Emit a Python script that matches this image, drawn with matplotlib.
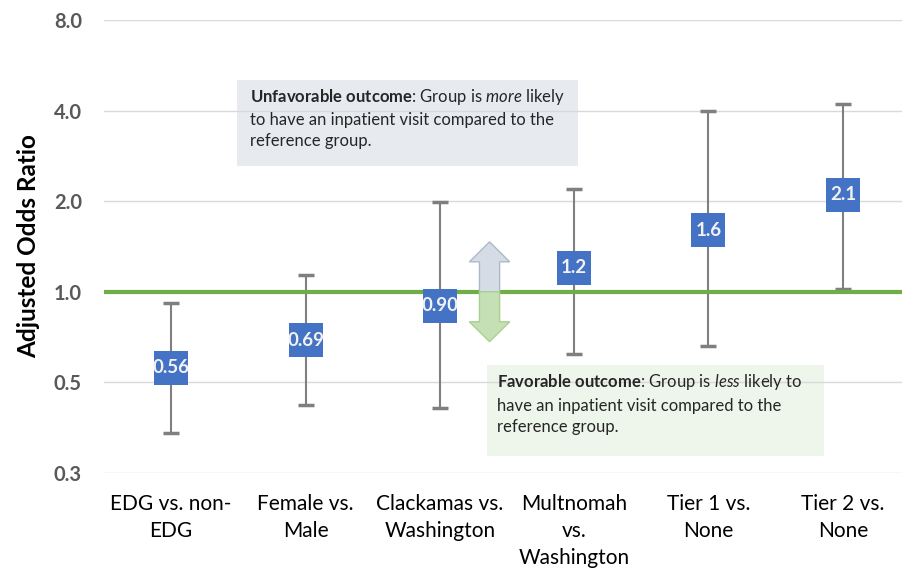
import matplotlib
matplotlib.use("Agg")
import matplotlib.pyplot as plt
from matplotlib.patches import Polygon
import numpy as np

plt.rcParams['font.family'] = ['Lato', 'DejaVu Sans']
plt.rcParams['mathtext.fontset'] = 'custom'
plt.rcParams['mathtext.rm'] = 'Lato'
plt.rcParams['mathtext.bf'] = 'Lato:bold'
plt.rcParams['mathtext.it'] = 'Lato:italic'

categories = ["EDG vs. non-\nEDG", "Female vs.\nMale", "Clackamas vs.\nWashington",
              "Multnomah\nvs.\nWashington", "Tier 1 vs.\nNone", "Tier 2 vs.\nNone"]
aor = [0.56, 0.69, 0.90, 1.2, 1.6, 2.1]
aor_labels = ["0.56", "0.69", "0.90", "1.2", "1.6", "2.1"]
ci_lower = [0.34, 0.42, 0.41, 0.62, 0.66, 1.02]
ci_upper = [0.92, 1.14, 1.99, 2.2, 4.0, 4.2]
yticks = [0.25, 0.5, 1.0, 2.0, 4.0, 8.0]
ytick_labels = ["0.3", "0.5", "1.0", "2.0", "4.0", "8.0"]

fig = plt.figure(figsize=(9.02, 5.70), dpi=100)
ax = fig.add_axes([104/902, 1-473/570, 806/902, 453/570])

x = np.arange(len(categories))
aor_a = np.array(aor)
yerr = [aor_a - np.array(ci_lower), np.array(ci_upper) - aor_a]
ax.errorbar(x, aor_a, yerr=yerr, fmt='none', ecolor='#7F7F7F', elinewidth=1.5,
            capsize=5.5, capthick=2.5, zorder=3)
ax.axhline(1.0, color='#70AD47', lw=3, zorder=4)
ax.plot(x, aor_a, 's', color='#4472C4', markersize=24, markeredgewidth=0, zorder=5)
for xi, v, lab in zip(x, aor, aor_labels):
    ax.text(xi, v, lab, color='#F2F2F2', fontweight='bold', fontsize=13.5,
            ha='center', va='center', zorder=6)

ax.set_yscale('log', base=2)
ax.set_ylim(0.25, 8.0)
ax.set_xlim(-0.5, len(categories) - 0.5)
ax.set_yticks(yticks)
ax.set_yticklabels(ytick_labels)
ax.yaxis.set_minor_locator(matplotlib.ticker.NullLocator())
ax.set_xticks(x)
ax.set_xticklabels(categories, fontsize=15, color='black', linespacing=1.45)
ax.tick_params(axis='y', length=0, pad=16, labelsize=14.5, labelcolor='#595959')
for t in ax.get_yticklabels():
    t.set_fontweight('bold')
ax.tick_params(axis='x', length=0, pad=15)
ax.grid(axis='y', color='#D9D9D9', lw=1, zorder=0)
for s in ax.spines.values():
    s.set_visible(False)
ax.set_ylabel("Adjusted Odds Ratio", fontsize=17.5, fontweight='bold', labelpad=10)

# arrows
ax_c = 2.37
bw, hw = 0.075, 0.15
up = Polygon([(ax_c - bw, 1.0), (ax_c - bw, 1.258), (ax_c - hw, 1.258), (ax_c, 1.465),
              (ax_c + hw, 1.258), (ax_c + bw, 1.258), (ax_c + bw, 1.0)], closed=True,
             facecolor='#D6DCE5', edgecolor='#ADB9CA', lw=1, zorder=4.5)
down = Polygon([(ax_c - bw, 1.0), (ax_c - bw, 0.795), (ax_c - hw, 0.795), (ax_c, 0.683),
                (ax_c + hw, 0.795), (ax_c + bw, 0.795), (ax_c + bw, 1.0)], closed=True,
               facecolor='#C5E0B4', edgecolor='#A9D18E', lw=1, zorder=4.5)
ax.add_patch(up)
ax.add_patch(down)

# annotation boxes
ax.add_patch(plt.Rectangle((0.165, 0.678), 0.423, 0.19, transform=ax.transAxes,
                           facecolor='#E7EBF0', edgecolor='none', zorder=1))
ax.add_patch(plt.Rectangle((0.475, 0.0375), 0.418, 0.2005, transform=ax.transAxes,
                           facecolor='#EEF5EA', edgecolor='none', zorder=1))
ax.text(0.181, 0.852,
        r"$\mathbf{Unfavorable\ outcome}$: Group is $\mathit{more}$ likely" "\n"
        "to have an inpatient visit compared to the\nreference group.",
        transform=ax.transAxes, fontsize=12, va='top', ha='left', color='#262626',
        linespacing=1.4, zorder=2)
ax.text(0.488, 0.222,
        r"$\mathbf{Favorable\ outcome}$: Group is $\mathit{less}$ likely to" "\n"
        "have an inpatient visit compared to the\nreference group.",
        transform=ax.transAxes, fontsize=12, va='top', ha='left', color='#262626',
        linespacing=1.4, zorder=2)

fig.savefig("out.png", dpi=100)
